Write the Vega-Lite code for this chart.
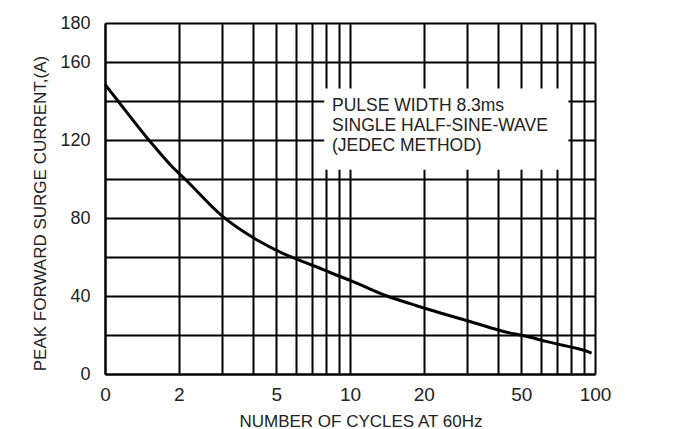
{
  "$schema": "https://vega.github.io/schema/vega-lite/v6.json",
  "width": 490,
  "height": 351,
  "autosize": {"type": "none"},
  "padding": {"left": 105, "top": 23, "right": 83, "bottom": 55},
  "background": "white",
  "config": {
    "view": {"stroke": null},
    "font": "Liberation Sans",
    "axis": {
      "gridColor": "black",
      "gridWidth": 2,
      "gridOpacity": 1,
      "domainColor": "black",
      "domainWidth": 2,
      "ticks": false,
      "labelColor": "#222",
      "titleColor": "#222",
      "labelFont": "Liberation Sans",
      "titleFont": "Liberation Sans",
      "titleFontWeight": "normal",
      "labelOverlap": false
    }
  },
  "layer": [
    {
      "data": {
        "values": [
          {"cycles": 1, "current": 148.5},
          {"cycles": 1.13, "current": 140},
          {"cycles": 1.51, "current": 120},
          {"cycles": 1.88, "current": 106.3},
          {"cycles": 2.12, "current": 100},
          {"cycles": 3.03, "current": 80.7},
          {"cycles": 4.3, "current": 67.8},
          {"cycles": 5.29, "current": 62},
          {"cycles": 6.38, "current": 57.8},
          {"cycles": 7.28, "current": 55},
          {"cycles": 8.38, "current": 51.8},
          {"cycles": 10.12, "current": 47.8},
          {"cycles": 14.16, "current": 40},
          {"cycles": 18.83, "current": 34.9},
          {"cycles": 23.4, "current": 31.3},
          {"cycles": 30.4, "current": 27.2},
          {"cycles": 42.7, "current": 21.7},
          {"cycles": 52.8, "current": 19.2},
          {"cycles": 63.8, "current": 16.6},
          {"cycles": 73.0, "current": 14.9},
          {"cycles": 84.0, "current": 13.2},
          {"cycles": 94.1, "current": 11.4},
          {"cycles": 96.8, "current": 10.7}
        ]
      },
      "mark": {"type": "line", "color": "black", "strokeWidth": 3, "interpolate": "monotone"},
      "encoding": {
        "x": {
          "field": "cycles",
          "type": "quantitative",
          "scale": {"type": "log", "domain": [1, 100], "nice": false},
          "axis": {
            "title": "NUMBER OF CYCLES AT 60Hz",
            "values": [1, 2, 3, 4, 5, 6, 7, 8, 9, 10, 20, 30, 40, 50, 60, 70, 80, 90, 100],
            "tickCount": 40,
            "labelExpr": "datum.value == 1 ? '0' : (indexof([2,5,10,20,50,100], datum.value) >= 0 ? format(datum.value, 'd') : '')",
            "labelFlush": false,
            "labelOverlap": false,
            "labelFontSize": 19,
            "labelPadding": 11,
            "titleFontSize": 17,
            "titleX": 255.5,
            "titleY": 52,
            "titleBaseline": "alphabetic",
            "titleAlign": "center"
          }
        },
        "y": {
          "field": "current",
          "type": "quantitative",
          "scale": {"domain": [0, 180], "nice": false},
          "axis": {
            "title": "PEAK FORWARD SURGE CURRENT,(A)",
            "values": [0, 20, 40, 60, 80, 100, 120, 140, 160, 180],
            "tickCount": 20,
            "labelExpr": "(datum.value % 40 == 0 || datum.value == 180) ? format(datum.value, 'd') : ''",
            "labelOverlap": false,
            "labelFlush": false,
            "labelFontSize": 18,
            "labelPadding": 15,
            "titleFontSize": 17,
            "titleX": -65,
            "titleY": 190,
            "titleBaseline": "middle",
            "titleAngle": -90,
            "titleAlign": "center"
          }
        }
      }
    },
    {
      "data": {"values": [{"cycles": 7.85, "cycles_end": 77.9, "current": 104.8, "current_end": 146.4}]},
      "mark": {"type": "rect", "fill": "white"},
      "encoding": {
        "x": {"field": "cycles", "type": "quantitative"},
        "x2": {"field": "cycles_end"},
        "y": {"field": "current", "type": "quantitative"},
        "y2": {"field": "current_end"}
      }
    },
    {
      "data": {
        "values": [
          {"cycles": 8.44, "current": 134.7, "note": "PULSE WIDTH 8.3ms"},
          {"cycles": 8.44, "current": 124.4, "note": "SINGLE HALF-SINE-WAVE"},
          {"cycles": 8.44, "current": 114.2, "note": "(JEDEC METHOD)"}
        ]
      },
      "mark": {"type": "text", "align": "left", "baseline": "alphabetic", "fontSize": 17.5, "color": "#222", "font": "Liberation Sans"},
      "encoding": {
        "x": {"field": "cycles", "type": "quantitative"},
        "y": {"field": "current", "type": "quantitative"},
        "text": {"field": "note"}
      }
    }
  ]
}
